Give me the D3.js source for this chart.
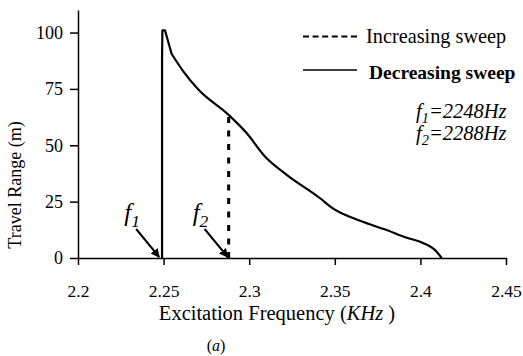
<!DOCTYPE html>
<html lang="en">
<head>
    <meta charset="UTF-8">
    <title>Travel range vs excitation frequency</title>
    <script src="https://d3js.org/d3.v7.min.js"></script>
    <style>
        body { margin: 0; background: #fff; }
        svg text { font-family: "Liberation Serif", "Times New Roman", Times, "DejaVu Serif", serif; fill: #000; }
    </style>
</head>
<body>
    <div id="chart"></div>

    <script>
        // Decreasing sweep (solid curve)
        const decFreq = [2.2491, 2.2491, 2.2493, 2.2508, 2.2547, 2.2615, 2.2703, 2.2878, 2.2985,
                         2.3092, 2.3219, 2.3414, 2.3482, 2.3647, 2.3803, 2.3920, 2.4015, 2.4095, 2.4124];
        const decRange = [0, 88.7, 101, 101, 90.5, 82.8, 74.7, 63.6, 55.4,
                          45, 36.9, 26.5, 22.3, 16.5, 12.4, 9.0, 6.7, 2.8, 0];

        // Increasing sweep (dashed jump at f2)
        const incFreq = [2.288, 2.288];
        const incRange = [0, 63.5];

        const xTicks = [2.2, 2.25, 2.3, 2.35, 2.4, 2.45];
        const yTicks = [0, 25, 50, 75, 100];

        const f1Hz = 2248;
        const f2Hz = 2288;
        const legendLabels = ["Increasing sweep", "Decreasing sweep"];

        const serif = '"Liberation Serif", "Times New Roman", Times, serif';

        const W = 523, H = 356;
        const svg = d3.select("#chart").append("svg")
            .attr("width", W)
            .attr("height", H);

        const x = d3.scaleLinear().domain([2.2, 2.45]).range([78, 506]);
        const y = d3.scaleLinear().domain([0, 110]).range([258, 10]);

        // axes
        const xAxis = svg.append("g")
            .attr("transform", "translate(0," + y(0) + ")")
            .call(d3.axisBottom(x).tickValues(xTicks).tickSize(7).tickSizeOuter(0).tickPadding(20)
                .tickFormat(d => String(+d.toFixed(2))));
        const yAxis = svg.append("g")
            .attr("transform", "translate(" + x(2.2) + ",0)")
            .call(d3.axisLeft(y).tickValues(yTicks).tickSize(8).tickSizeOuter(0).tickPadding(7));

        [xAxis, yAxis].forEach(a => {
            a.attr("font-family", serif).attr("font-size", 18);
            a.select(".domain").attr("stroke", "#000").attr("stroke-width", 1.5);
            a.selectAll(".tick line").attr("stroke", "#000").attr("stroke-width", 1.5);
            a.selectAll(".tick text").attr("fill", "#000");
        });
        xAxis.attr("font-size", 17.5);

        // lines: sharp jump + peak drawn straight, the long tail smoothed
        const pts = decFreq.map((f, i) => [f, decRange[i]]);
        const straight = d3.line().x(d => x(d[0])).y(d => y(d[1]));
        const smooth = d3.line().x(d => x(d[0])).y(d => y(d[1])).curve(d3.curveMonotoneX);

        svg.append("path")
            .attr("fill", "none")
            .attr("stroke", "#000")
            .attr("stroke-width", 2.2)
            .attr("stroke-linejoin", "round")
            .attr("d", straight(pts.slice(0, 5)) + smooth(pts.slice(4)).replace(/^M/, "L"));

        svg.append("path")
            .datum(incFreq.map((f, i) => [f, incRange[i]]))
            .attr("fill", "none")
            .attr("stroke", "#000")
            .attr("stroke-width", 3)
            .attr("stroke-dasharray", "6,7.5")
            .attr("d", straight);

        // axis titles
        svg.append("text")
            .attr("transform", "translate(21,185) rotate(-90)")
            .attr("text-anchor", "middle")
            .style("font-size", "18px")
            .text("Travel Range (m)");

        const xt = svg.append("text")
            .attr("x", 277)
            .attr("y", 320)
            .attr("text-anchor", "middle")
            .style("font-size", "20.5px");
        xt.append("tspan").text("Excitation Frequency (");
        xt.append("tspan").style("font-style", "italic").text("KHz");
        xt.append("tspan").text(" )");

        const cap = svg.append("text")
            .attr("x", 216)
            .attr("y", 351)
            .attr("text-anchor", "middle")
            .style("font-size", "16px");
        cap.append("tspan").text("(");
        cap.append("tspan").style("font-style", "italic").text("a");
        cap.append("tspan").text(")");

        // legend
        const leg = svg.append("g");
        leg.append("line")
            .attr("x1", 303).attr("x2", 357).attr("y1", 36.5).attr("y2", 36.5)
            .attr("stroke", "#000").attr("stroke-width", 2).attr("stroke-dasharray", "6,3.6");
        leg.append("line")
            .attr("x1", 303).attr("x2", 357).attr("y1", 70).attr("y2", 70)
            .attr("stroke", "#000").attr("stroke-width", 1.5);
        leg.append("text").attr("x", 366).attr("y", 43).style("font-size", "20.3px").text(legendLabels[0]);
        leg.append("text").attr("x", 369).attr("y", 79).style("font-size", "19.5px")
            .style("font-weight", "bold").text(legendLabels[1]);

        // f1 / f2 labels
        function fLabel(xp, yp, idx, hz, size) {
            const t = svg.append("text").attr("x", xp).attr("y", yp)
                .style("font-size", size + "px").style("font-style", "italic");
            t.append("tspan").text("f");
            t.append("tspan").attr("dy", size * 0.25).style("font-size", (size * 0.7) + "px").text(idx);
            if (hz) {
                t.append("tspan").attr("dy", -size * 0.25).text("=" + hz + "Hz");
            }
            return t;
        }
        fLabel(416, 118, "1", f1Hz, 20.5);
        fLabel(416, 140, "2", f2Hz, 20.5);

        // arrow annotations
        svg.append("defs").append("marker")
            .attr("id", "arrow")
            .attr("viewBox", "0 0 10 10")
            .attr("refX", 9).attr("refY", 5)
            .attr("markerWidth", 4.5).attr("markerHeight", 4.5)
            .attr("orient", "auto")
            .append("path")
            .attr("d", "M0,0L10,5L0,10z")
            .attr("fill", "#000");

        [[f1Hz, "1"], [f2Hz, "2"]].forEach(([hz, idx]) => {
            const ex = x(hz / 1000), ey = y(0) - 1;
            svg.append("line")
                .attr("x1", ex - 24).attr("y1", ey - 28)
                .attr("x2", ex - 1).attr("y2", ey)
                .attr("stroke", "#000").attr("stroke-width", 2)
                .attr("marker-end", "url(#arrow)");
            fLabel(ex - 36, ey - 36, idx, null, 25);
        });
    </script>
</body>
</html>
